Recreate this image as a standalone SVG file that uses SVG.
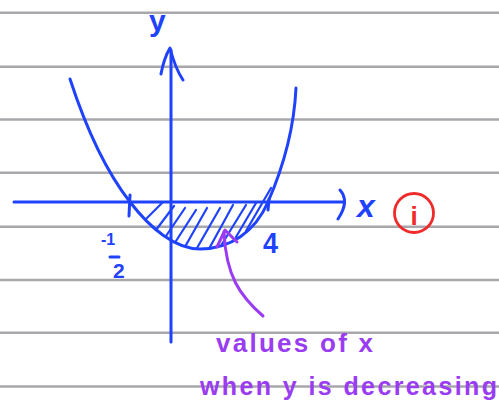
<svg xmlns="http://www.w3.org/2000/svg" width="499" height="407" viewBox="0 0 499 407">
<style>
.rule{stroke:#a8a8ac;stroke-width:2.5}
.blue{fill:none;stroke:#1f42ff;stroke-width:3;stroke-linecap:round;stroke-linejoin:round}
.hatch{fill:none;stroke:#1f42ff;stroke-width:2.2;stroke-linecap:round}
.purple{fill:none;stroke:#9a3cf2;stroke-width:3;stroke-linecap:round;stroke-linejoin:round}
.btxt{fill:#1f42ff;font-family:"Liberation Sans",Arial,sans-serif;font-weight:bold}
.ptxt{fill:#9a3cf2;font-family:"Liberation Sans",Arial,sans-serif;font-weight:bold}
</style>
<rect width="499" height="407" fill="#ffffff"/>
<g id="ruled-lines">
<line class="rule" x1="0" y1="12.7" x2="499" y2="12.7"/>
<line class="rule" x1="0" y1="66.7" x2="499" y2="66.7"/>
<line class="rule" x1="0" y1="119.5" x2="499" y2="119.5"/>
<line class="rule" x1="0" y1="172.7" x2="499" y2="172.7"/>
<line class="rule" x1="0" y1="226.7" x2="499" y2="226.7"/>
<line class="rule" x1="0" y1="280" x2="499" y2="280"/>
<line class="rule" x1="0" y1="332.7" x2="499" y2="332.7"/>
<line class="rule" x1="0" y1="386.5" x2="499" y2="386.5"/>
</g>
<g id="axes">
<path class="blue" d="M171,50 L171,342"/>
<path class="blue" d="M161,74 Q164,58 170,48 Q175,68 183,80"/>
<path class="blue" d="M14,202 L343,202"/>
<path class="blue" d="M340,190 Q350,201 338,219"/>
<path class="blue" d="M130,195 L129,216"/>
<path class="blue" d="M269,199 L268,210"/>
</g>
<g id="curve">
<path class="blue" d="M70,79 C85,125 105,170 130,202 C150,228 175,249 200,249 C230,249 255,232 268,202 C282,170 294,130 296,88"/>
</g>
<g id="hatching">
<line class="hatch" x1="146" y1="219" x2="162" y2="203"/>
<line class="hatch" x1="156" y1="230" x2="174" y2="206"/>
<line class="hatch" x1="166" y1="236" x2="185" y2="208"/>
<line class="hatch" x1="176" y1="241" x2="196" y2="210"/>
<line class="hatch" x1="186" y1="245" x2="207" y2="208"/>
<line class="hatch" x1="197" y1="248" x2="220" y2="208"/>
<line class="hatch" x1="210" y1="247" x2="233" y2="205"/>
<line class="hatch" x1="222" y1="244" x2="246" y2="205"/>
<line class="hatch" x1="236" y1="237" x2="256" y2="203"/>
<line class="hatch" x1="246" y1="231" x2="271" y2="188"/>
</g>
<g id="labels">
<text class="btxt" x="149" y="31" font-size="30" font-weight="normal">y</text>
<text class="btxt" x="357" y="217" font-size="32" font-style="italic" font-family="Liberation Serif">x</text>
<text class="btxt" x="101" y="245" font-size="16">-1</text>
<line class="blue" x1="110" y1="257" x2="119" y2="257" stroke-width="2.5"/>
<text class="btxt" x="113" y="278" font-size="21">2</text>
<text class="btxt" x="263" y="253" font-size="30" textLength="15" lengthAdjust="spacingAndGlyphs">4</text>
</g>
<g id="case-label">
<circle cx="414" cy="213" r="19.5" fill="none" stroke="#f02a2a" stroke-width="2.8"/>
<text x="414" y="225" font-size="26" text-anchor="middle" fill="#f02a2a" font-weight="bold" font-family="Liberation Sans,Arial,sans-serif">i</text>
</g>
<g id="annotation">
<path class="purple" d="M263,316 C240,296 226,276 224,232"/>
<path class="purple" d="M217,247 L225,230 L237,242"/>
<text class="ptxt" x="216" y="352" font-size="26" textLength="157" lengthAdjust="spacing">values of x</text>
<text class="ptxt" x="200" y="395" font-size="25" textLength="297" lengthAdjust="spacing">when y is decreasing</text>
</g>
</svg>
